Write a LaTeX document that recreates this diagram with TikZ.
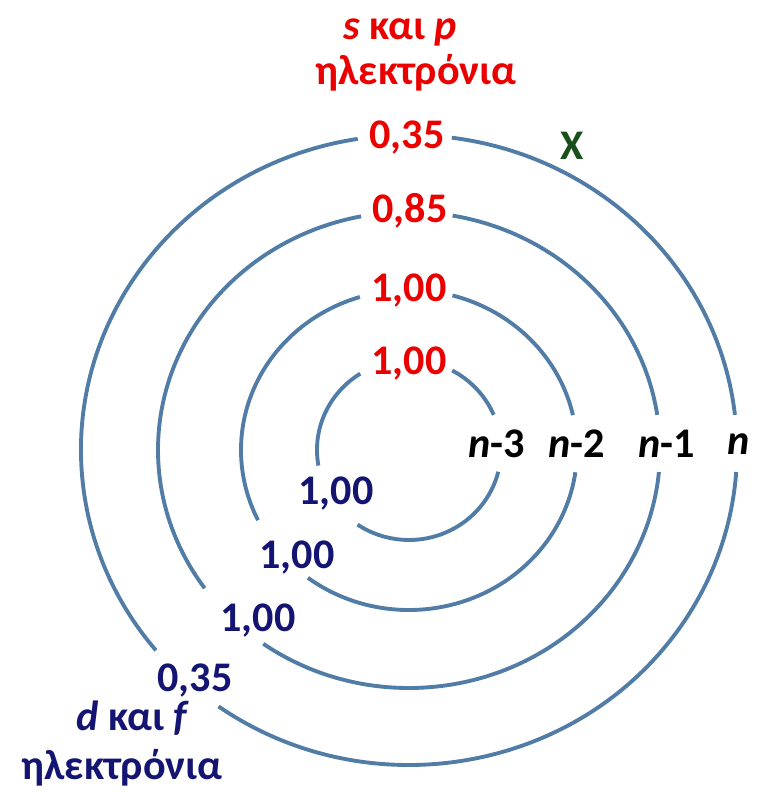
\documentclass[tikz,border=0pt]{standalone}
\usepackage{fontspec}
\setmainfont{Carlito}
\definecolor{ringblue}{RGB}{80,124,165}
\definecolor{spred}{RGB}{235,0,0}
\definecolor{dfblue}{RGB}{20,20,115}
\definecolor{xgreen}{RGB}{25,80,25}

\begin{document}
\begin{tikzpicture}[x=0.02cm, y=0.02cm,
    ring/.style={ringblue, line width=2.2pt},
    lbl/.style={font=\fontsize{24}{28}\selectfont\bfseries, inner sep=0pt}]
  \useasboundingbox (0,0) rectangle (761,792);
  \coordinate (c) at (409,342);
  % ==== RINGS (with gaps for the labels) ====
  \foreach \rx/\ry/\ra/\rb/\ta/\tb/\la/\lb in {92/90/-14/23/62/122/190/236,
      168/160/-8/12.6/75/107/206/233,
      251/238/-5.3/8.5/80/101/215.5/234.5,
      328/315/-4/6.4/82.5/99/219.5/234.5}
  {
    \draw[ring] (c) ++(\rb:{\rx} and {\ry})
      arc[start angle=\rb, end angle=\ta, x radius=\rx, y radius=\ry];
    \draw[ring] (c) ++(\tb:{\rx} and {\ry})
      arc[start angle=\tb, end angle=\la, x radius=\rx, y radius=\ry];
    \draw[ring] (c) ++(\lb:{\rx} and {\ry})
      arc[start angle=\lb, end angle=360+\ra, x radius=\rx, y radius=\ry];
  }
  % ==== s AND p ====
  \node[lbl, spred] (sp) at (400,760) {\textit{s} και \textit{p}};
  \node[lbl, spred] (spel) at (416,719) {ηλεκτρόνια};
  \node[lbl, spred] (s1) at (407,654) {0,35};
  \node[lbl, spred] (s2) at (410,581) {0,85};
  \node[lbl, spred] (s3) at (409,501) {1,00};
  \node[lbl, spred] (s4) at (409,428) {1,00};
  \node[lbl, xgreen] (x) at (572,646) {X};
  % ==== SHELLS ====
  \node[lbl] (n3) at (497,348) {\textit{n}-3};
  \node[lbl] (n2) at (577,348) {\textit{n}-2};
  \node[lbl] (n1) at (667,348) {\textit{n}-1};
  \node[lbl] (n0) at (739,348) {\textit{n}};
  % ==== d AND f ====
  \node[lbl, dfblue] (d4) at (336,298) {1,00};
  \node[lbl, dfblue] (d3) at (297,234) {1,00};
  \node[lbl, dfblue] (d2) at (258,171) {1,00};
  \node[lbl, dfblue] (d1) at (195,111) {0,35};
  \node[lbl, dfblue] (df) at (133,74) {\textit{d} και \textit{f}};
  \node[lbl, dfblue] (dfel) at (122,24) {ηλεκτρόνια};
\end{tikzpicture}
\end{document}
